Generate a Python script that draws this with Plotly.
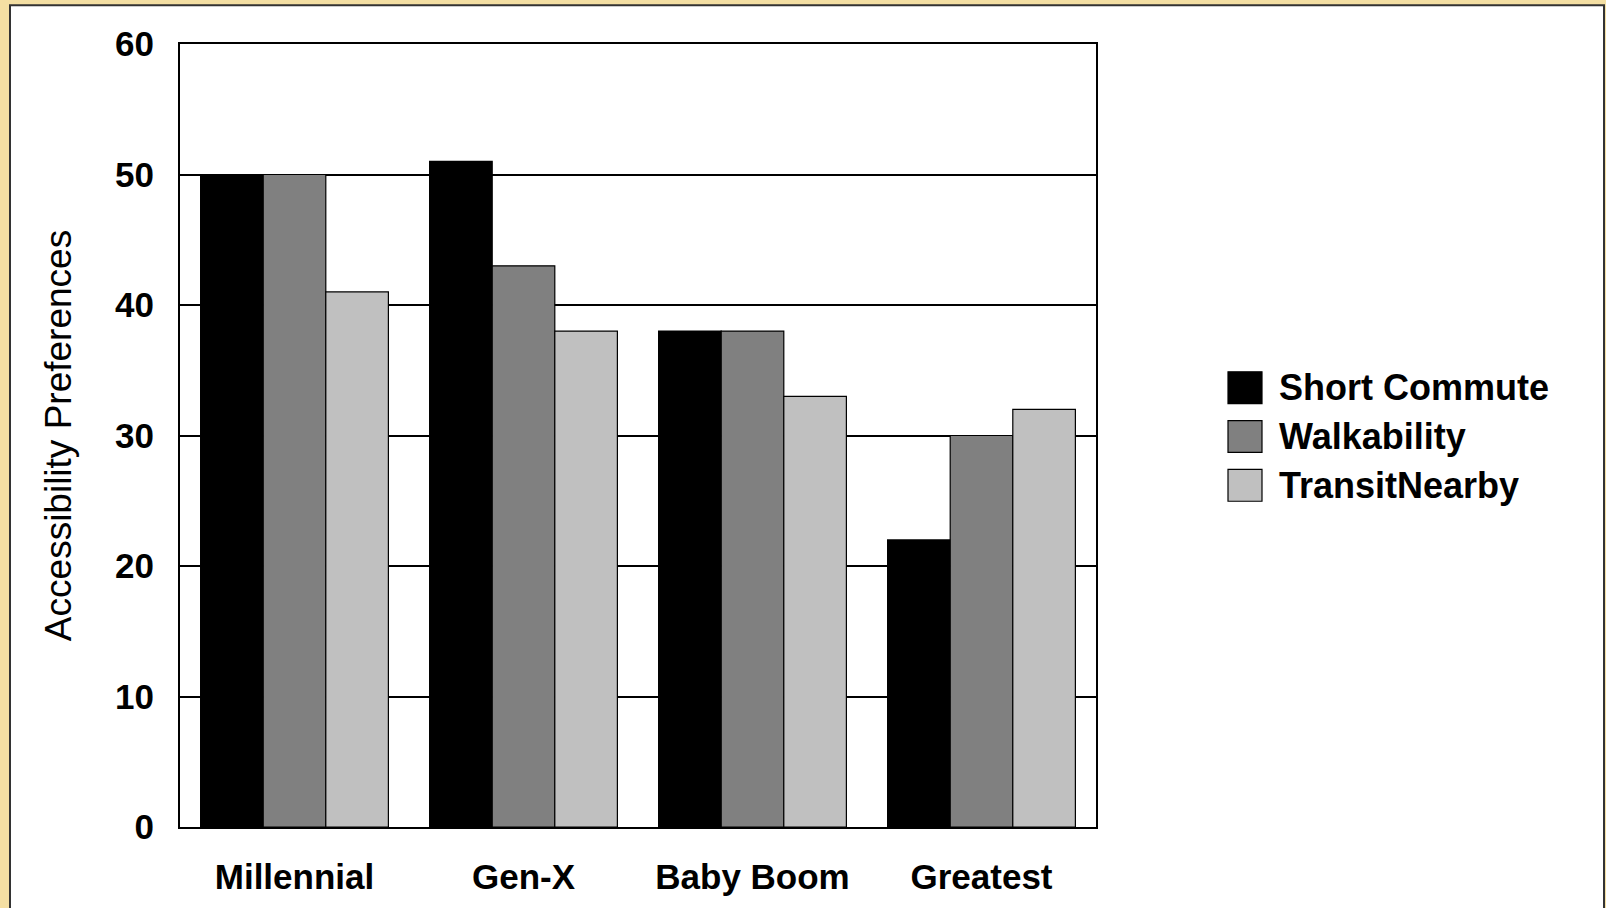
import plotly.graph_objects as go

# Generational accessibility preferences
generations = ["Millennial", "Gen-X", "Baby Boom", "Greatest"]
short_commute = [50, 51, 38, 22]
walkability = [50, 43, 38, 30]
transit_nearby = [41, 38, 33, 32]

series_names = ["Short Commute", "Walkability", "TransitNearby"]
series_values = [short_commute, walkability, transit_nearby]
series_colors = ["#000000", "#808080", "#c0c0c0"]

y_ticks = [0, 10, 20, 30, 40, 50, 60]

W, H = 1606, 908
ML, MR, MT, MB = 180, 510, 44, 78
PW, PH = W - ML - MR, H - MT - MB

FONT = "Liberation Sans, Arial, sans-serif"


def px_x(x):
    return (x - ML) / PW


def px_y(y):
    return (H - MB - y) / PH


fig = go.Figure()
for name, vals, col in zip(series_names, series_values, series_colors):
    fig.add_trace(go.Bar(
        x=generations, y=vals, name=name,
        marker=dict(color=col, line=dict(color="#000000", width=1.2)),
        showlegend=False,
    ))

shapes = [
    # white card with dark border on the gold backdrop
    dict(type="rect", xref="paper", yref="paper", layer="below",
         x0=px_x(10), x1=px_x(1604), y0=px_y(915), y1=px_y(5),
         fillcolor="#ffffff", line=dict(color="#333333", width=2)),
]
annotations = []

# legend: large swatches with bold labels
leg_rows = [389, 438, 487]
for (name, col, yc) in zip(series_names, series_colors, leg_rows):
    shapes.append(dict(type="rect", xref="paper", yref="paper",
                       x0=px_x(1228), x1=px_x(1262),
                       y0=px_y(yc + 16), y1=px_y(yc - 16),
                       fillcolor=col, line=dict(color="#000000", width=1.2)))
    annotations.append(dict(xref="paper", yref="paper", x=px_x(1277), y=px_y(yc),
                            xanchor="left", yanchor="middle", showarrow=False,
                            text="<b>%s</b>" % name,
                            font=dict(family=FONT, size=36, color="#000000")))

fig.update_layout(
    width=W, height=H,
    margin=dict(l=ML, r=MR, t=MT, b=MB),
    paper_bgcolor="#f4dfa3",
    plot_bgcolor="#ffffff",
    barmode="group",
    bargap=0.18,
    bargroupgap=0,
    font=dict(family=FONT, color="#000000"),
    shapes=shapes,
    annotations=annotations,
    xaxis=dict(
        showgrid=False, showline=True, linecolor="#000000", linewidth=2,
        mirror=True, ticks="",
        tickfont=dict(family=FONT, size=35, color="#000000", weight="bold"),
        ticklabelstandoff=18,
    ),
    yaxis=dict(
        range=[0, 60], tickvals=y_ticks,
        showgrid=True, gridcolor="#000000", gridwidth=1.5,
        showline=True, linecolor="#000000", linewidth=2, mirror=True,
        zeroline=False, ticks="",
        tickfont=dict(family=FONT, size=35, color="#000000", weight="bold"),
        ticklabelstandoff=17,
        title=dict(text="Accessibility Preferences",
                   font=dict(family=FONT, size=37, color="#000000"),
                   standoff=32),
    ),
)

fig.write_html("out.html")
